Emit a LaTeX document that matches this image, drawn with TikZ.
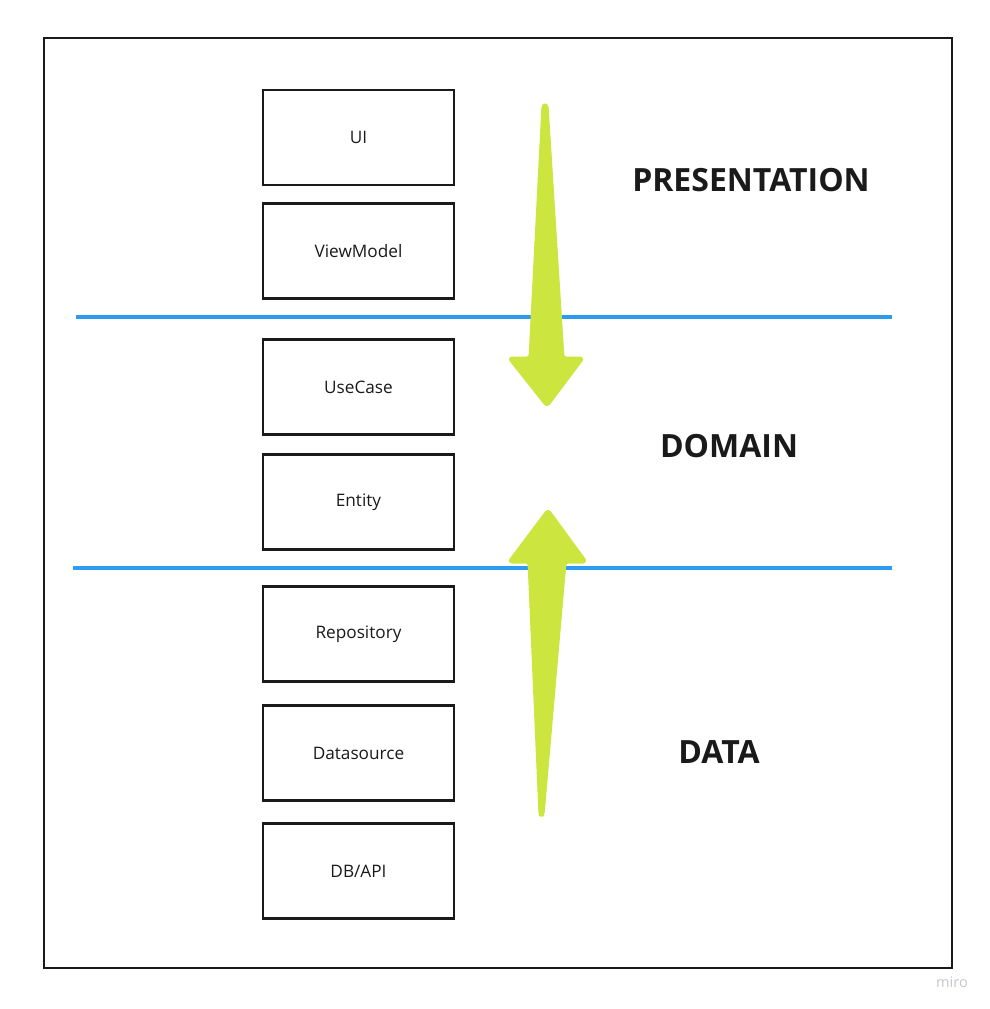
\documentclass[tikz,border=0pt]{standalone}
\usepackage{fontspec}
\setmainfont{Open Sans}
\definecolor{frame}{HTML}{1A1A1A}
\definecolor{sep}{HTML}{2D9BF0}
\definecolor{arrowgreen}{HTML}{CDE63F}
\definecolor{wm}{HTML}{C4C5CE}
\begin{document}
\begin{tikzpicture}[x=1pt,y=-1pt,
  layerbox/.style={draw=frame,line width=2.6pt,minimum width=191pt,minimum height=95pt,inner sep=0pt,font=\fontsize{17.2}{19}\selectfont,text=frame},
  layerlabel/.style={font=\fontsize{32}{34}\selectfont\bfseries,text=frame},
  sepline/.style={draw=sep,line width=4.5pt},
  bigarrow/.style={fill=arrowgreen,draw=arrowgreen,line width=3pt,rounded corners=3pt,line join=round}]
\useasboundingbox (0,0) rectangle (990,1009);
\draw[frame,line width=2pt] (44,38) rectangle (952,968);
% separators
\coordinate (s1a) at (76,317); \coordinate (s1b) at (892,317);
\coordinate (s2a) at (73,568); \coordinate (s2b) at (892,568);
\draw[sepline] (s1a) -- (s1b);
\draw[sepline] (s2a) -- (s2b);
% boxes
\node[layerbox] (ui) at (358.5,137.5) {UI};
\node[layerbox] (vm) at (358.5,251) {ViewModel};
\node[layerbox] (uc) at (358.5,387) {UseCase};
\node[layerbox] (en) at (358.5,502) {Entity};
\node[layerbox] (repo) at (358.5,634) {Repository};
\node[layerbox] (ds) at (358.5,753) {Datasource};
\node[layerbox] (db) at (358.5,871) {DB/API};
% arrows
\fill[bigarrow] (543,105) -- (547,105) -- (563,358) -- (583,358) -- (547,406) -- (509,358) -- (530,358) -- cycle;
\fill[bigarrow] (548,510) -- (586,562) -- (565,562) -- (543,815) -- (540,815) -- (529,562) -- (509,562) -- cycle;
% labels
\node[layerlabel] (pres) at (751,180) {PRESENTATION};
\node[layerlabel] (dom) at (729,446) {DOMAIN};
\node[layerlabel] (dat) at (719,752) {DATA};
\node[text=wm,font=\fontsize{14.5}{16}\selectfont] (miro) at (952,982) {miro};
\end{tikzpicture}
\end{document}
